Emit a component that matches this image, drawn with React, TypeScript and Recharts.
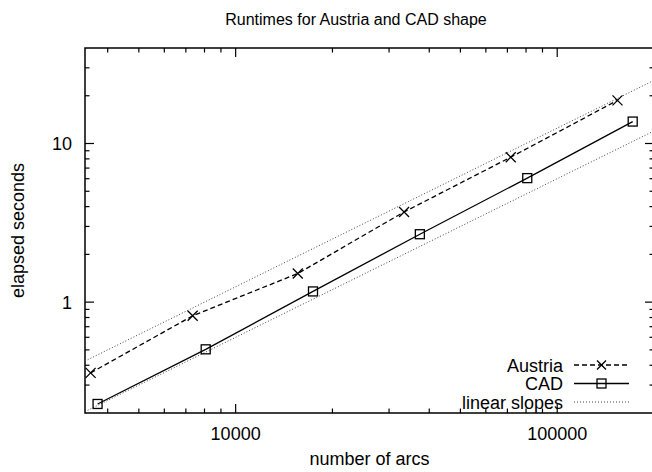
import React from 'react'
import { LineChart, Line, XAxis, YAxis, ReferenceArea, Legend } from 'recharts'

const austriaArcs = [3540, 7350, 15600, 33400, 71700, 154000]
const austriaSeconds = [0.358, 0.82, 1.515, 3.7, 8.2, 18.7]
const cadArcs = [3720, 8070, 17400, 37400, 80700, 171700]
const cadSeconds = [0.228, 0.504, 1.168, 2.68, 6.05, 13.75]
const slopeArcs = [3400, 200000]
const upperSlope = [0.425, 25]
const lowerSlope = [0.204, 12]

const xDomain = [3400, 200000]
const yDomain = [0.2, 40]
const xTicks = [4000, 5000, 6000, 7000, 8000, 9000, 10000, 20000, 30000, 40000, 50000, 60000, 70000, 80000, 90000, 100000]
const xMajor = [10000, 100000]
const yTicks = [0.3, 0.4, 0.5, 0.6, 0.7, 0.8, 0.9, 1, 2, 3, 4, 5, 6, 7, 8, 9, 10, 20, 30]
const yMajor = [1, 10]

const austria = austriaArcs.map((arcs, i) => ({ arcs, seconds: austriaSeconds[i] }))
const cad = cadArcs.map((arcs, i) => ({ arcs, seconds: cadSeconds[i] }))
const upper = slopeArcs.map((arcs, i) => ({ arcs, seconds: upperSlope[i] }))
const lower = slopeArcs.map((arcs, i) => ({ arcs, seconds: lowerSlope[i] }))

const WIDTH = 660
const HEIGHT = 472
const MARGIN = { top: 48, right: 6, bottom: 0, left: 0 }
const Y_AXIS_W = 85
const X_AXIS_H = 59
const PLOT_LEFT = MARGIN.left + Y_AXIS_W
const PLOT_RIGHT = WIDTH - MARGIN.right
const PLOT_TOP = MARGIN.top
const PLOT_BOTTOM = HEIGHT - MARGIN.bottom - X_AXIS_H
const FONT = '"Liberation Sans", Arial, Helvetica, sans-serif'
const FS = 18

function XTick({ x, payload }: any) {
  const major = xMajor.includes(payload.value)
  const len = major ? 9 : 4.5
  return (
    <g>
      <line x1={x} x2={x} y1={PLOT_BOTTOM} y2={PLOT_BOTTOM - len} stroke="#000" strokeWidth={1.2} />
      <line x1={x} x2={x} y1={PLOT_TOP} y2={PLOT_TOP + len} stroke="#000" strokeWidth={1.2} />
      {major && (
        <text x={x} y={PLOT_BOTTOM + 27} textAnchor="middle" fontFamily={FONT} fontSize={FS} fill="#000">
          {String(payload.value)}
        </text>
      )}
    </g>
  )
}

function YTick({ y, payload }: any) {
  const major = yMajor.includes(payload.value)
  const len = major ? 9 : 4.5
  return (
    <g>
      <line x1={PLOT_LEFT} x2={PLOT_LEFT + len} y1={y} y2={y} stroke="#000" strokeWidth={1.2} />
      <line x1={PLOT_RIGHT} x2={PLOT_RIGHT - len} y1={y} y2={y} stroke="#000" strokeWidth={1.2} />
      {major && (
        <text x={PLOT_LEFT - 13} y={y + 6.5} textAnchor="end" fontFamily={FONT} fontSize={FS} fill="#000">
          {String(payload.value)}
        </text>
      )}
    </g>
  )
}

function XLabel() {
  return (
    <text x={(PLOT_LEFT + PLOT_RIGHT) / 2} y={465} textAnchor="middle" fontFamily={FONT} fontSize={FS} fill="#000">
      number of arcs
    </text>
  )
}

function YLabel() {
  const cy = (PLOT_TOP + PLOT_BOTTOM) / 2
  return (
    <text
      x={18}
      y={cy}
      transform={`rotate(-90 18 ${cy})`}
      textAnchor="middle"
      dominantBaseline="central"
      fontFamily={FONT}
      fontSize={FS}
      fill="#000"
    >
      elapsed seconds
    </text>
  )
}

function cross(cx: number, cy: number, r: number) {
  return `M${cx - r},${cy - r}L${cx + r},${cy + r}M${cx - r},${cy + r}L${cx + r},${cy - r}`
}

const CrossDot = (p: any) => (
  <path key={`x-${p.index}`} d={cross(p.cx, p.cy, 5)} stroke="#000" strokeWidth={1.3} fill="none" />
)

const SquareDot = (p: any) => (
  <rect key={`s-${p.index}`} x={p.cx - 4.5} y={p.cy - 4.5} width={9} height={9} stroke="#000" strokeWidth={1.3} fill="none" />
)

const legendRows = [
  { name: 'Austria', dash: '5 3', marker: 'cross' },
  { name: 'CAD', dash: undefined, marker: 'square' },
  { name: 'linear slopes', dash: '1 2', marker: 'none' },
]

const LEG_LEFT = 440
const LEG_TOP = 352

function LegendBox() {
  return (
    <svg width={212} height={64}>
      {legendRows.map((row, i) => {
        const base = 19.5 + i * 18.5
        const ly = base - 6.5
        return (
          <g key={row.name}>
            <text x={123} y={base} textAnchor="end" fontFamily={FONT} fontSize={FS} fill="#000">
              {row.name}
            </text>
            <line
              x1={134}
              x2={189}
              y1={ly}
              y2={ly}
              stroke={row.marker === 'none' ? '#444' : '#000'}
              strokeWidth={row.marker === 'none' ? 1 : 1.3}
              strokeDasharray={row.dash}
            />
            {row.marker === 'cross' && <path d={cross(161.5, ly, 4.5)} stroke="#000" strokeWidth={1.3} />}
            {row.marker === 'square' && (
              <rect x={157} y={ly - 4.5} width={9} height={9} stroke="#000" strokeWidth={1.3} fill="none" />
            )}
          </g>
        )
      })}
    </svg>
  )
}

export default function App() {
  return (
    <div
      style={{
        position: 'absolute',
        left: 0,
        top: 0,
        width: 652,
        height: 472,
        overflow: 'hidden',
        background: '#fff',
        fontFamily: FONT,
      }}
    >
      <div
        style={{
          position: 'absolute',
          left: 206,
          width: 300,
          top: 10,
          lineHeight: '20px',
          fontSize: 16,
          textAlign: 'center',
          color: '#000',
        }}
      >
        Runtimes for Austria and CAD shape
      </div>
      <LineChart width={WIDTH} height={HEIGHT} margin={MARGIN}>
        <XAxis
          dataKey="arcs"
          type="number"
          scale="log"
          domain={xDomain}
          allowDataOverflow
          ticks={xTicks}
          interval={0}
          height={X_AXIS_H}
          axisLine={false}
          tickLine={false}
          tick={<XTick />}
          label={<XLabel />}
        />
        <YAxis
          type="number"
          scale="log"
          domain={yDomain}
          allowDataOverflow
          ticks={yTicks}
          interval={0}
          width={Y_AXIS_W}
          axisLine={false}
          tickLine={false}
          tick={<YTick />}
          label={<YLabel />}
        />
        <ReferenceArea
          x1={xDomain[0]}
          x2={xDomain[1]}
          y1={yDomain[0]}
          y2={yDomain[1]}
          fill="none"
          fillOpacity={0}
          stroke="#000"
          strokeWidth={1.5}
          ifOverflow="visible"
        />
        <Line
          data={austria}
          dataKey="seconds"
          name="Austria"
          stroke="#000"
          strokeWidth={1.3}
          strokeDasharray="5 3"
          dot={CrossDot}
          isAnimationActive={false}
        />
        <Line
          data={cad}
          dataKey="seconds"
          name="CAD"
          stroke="#000"
          strokeWidth={1.3}
          dot={SquareDot}
          isAnimationActive={false}
        />
        <Line
          data={upper}
          dataKey="seconds"
          name="linear slopes"
          stroke="#444"
          strokeWidth={1}
          strokeDasharray="1 2"
          dot={false}
          legendType="none"
          isAnimationActive={false}
        />
        <Line
          data={lower}
          dataKey="seconds"
          name="linear slopes"
          stroke="#444"
          strokeWidth={1}
          strokeDasharray="1 2"
          dot={false}
          legendType="none"
          isAnimationActive={false}
        />
        <Legend
          layout="horizontal"
          verticalAlign="middle"
          align="center"
          content={<LegendBox />}
          wrapperStyle={{ position: 'absolute', left: LEG_LEFT, top: LEG_TOP, width: 212, height: 64 }}
        />
      </LineChart>
    </div>
  )
}
